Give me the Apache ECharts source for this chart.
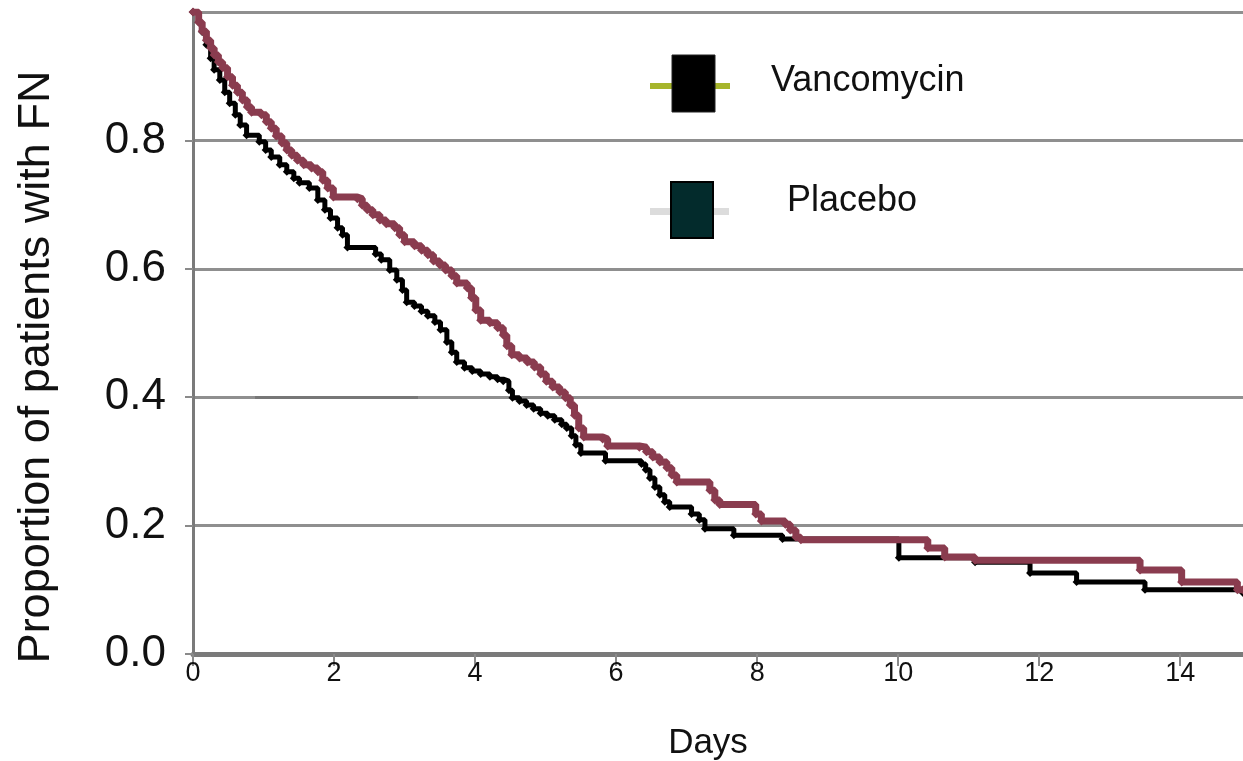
<!DOCTYPE html>
<html>
<head>
<meta charset="utf-8">
<title>Proportion of patients with FN</title>
<script src="https://cdn.jsdelivr.net/npm/echarts@6/dist/echarts.min.js"></script>
<style>
    html, body { margin: 0; padding: 0; background: #fff; }
    #fnChart { width: 1243px; height: 761px; }
</style>
</head>
<body>
<div id="fnChart"></div>
<script>
// Vancomycin (black curve): day, proportion
var vancoDays = [0, 0.08, 0.13, 0.19, 0.25, 0.30, 0.38, 0.45, 0.52, 0.60, 0.67, 0.76, 0.94, 1.03, 1.11, 1.23, 1.33, 1.43, 1.51, 1.65,
    1.77, 1.87, 1.95, 2.05, 2.12, 2.19, 2.59, 2.67, 2.79, 2.89, 2.97, 3.03, 3.14, 3.24, 3.33, 3.43, 3.51, 3.60, 3.67, 3.74,
    3.85, 3.96, 4.08, 4.21, 4.32, 4.40, 4.48, 4.53, 4.63, 4.73, 4.83, 4.93, 5.03, 5.13, 5.23, 5.30, 5.37, 5.43, 5.50, 5.85,
    6.36, 6.42, 6.48, 6.55, 6.62, 6.69, 6.76, 7.07, 7.18, 7.26, 7.67, 8.36, 10.01, 11.09, 11.87, 12.53, 13.50, 14.89];
var vancoProp = [1.0, 0.984, 0.969, 0.949, 0.928, 0.910, 0.894, 0.875, 0.858, 0.840, 0.824, 0.808, 0.798, 0.785, 0.774, 0.762, 0.751, 0.741, 0.734, 0.726,
    0.707, 0.692, 0.679, 0.664, 0.653, 0.633, 0.623, 0.614, 0.598, 0.583, 0.567, 0.548, 0.542, 0.534, 0.527, 0.517, 0.505, 0.486, 0.470, 0.455,
    0.446, 0.441, 0.436, 0.432, 0.428, 0.425, 0.411, 0.399, 0.394, 0.388, 0.382, 0.375, 0.371, 0.365, 0.358, 0.352, 0.340, 0.326, 0.313, 0.301,
    0.296, 0.287, 0.274, 0.260, 0.248, 0.237, 0.229, 0.218, 0.209, 0.195, 0.185, 0.179, 0.150, 0.143, 0.126, 0.112, 0.100, 0.095];

// Placebo (maroon curve)
var placeboDays = [0, 0.08, 0.13, 0.19, 0.25, 0.30, 0.36, 0.42, 0.49, 0.56, 0.63, 0.70, 0.77, 0.83, 0.97, 1.04, 1.11, 1.18, 1.26, 1.33,
    1.40, 1.48, 1.57, 1.68, 1.77, 1.84, 1.91, 1.99, 2.33, 2.40, 2.47, 2.55, 2.65, 2.74, 2.86, 2.93, 3.00, 3.14, 3.24, 3.33,
    3.41, 3.50, 3.58, 3.67, 3.74, 3.89, 3.95, 4.01, 4.08, 4.21, 4.32, 4.40, 4.45, 4.52, 4.63, 4.74, 4.84, 4.93, 5.01, 5.10,
    5.20, 5.28, 5.35, 5.41, 5.47, 5.54, 5.81, 5.88, 6.33, 6.43, 6.52, 6.62, 6.72, 6.79, 6.86, 7.33, 7.40, 7.47, 7.98, 8.06,
    8.40, 8.47, 8.55, 8.62, 10.42, 10.66, 11.09, 13.43, 14.02, 14.81, 14.89];
var placeboProp = [1.0, 0.984, 0.970, 0.956, 0.944, 0.933, 0.922, 0.913, 0.899, 0.886, 0.875, 0.863, 0.852, 0.844, 0.840, 0.829, 0.819, 0.807, 0.796, 0.785,
    0.777, 0.769, 0.762, 0.757, 0.751, 0.738, 0.726, 0.712, 0.709, 0.699, 0.692, 0.684, 0.676, 0.670, 0.664, 0.653, 0.642, 0.636, 0.629, 0.622,
    0.612, 0.606, 0.598, 0.589, 0.578, 0.570, 0.555, 0.536, 0.520, 0.516, 0.508, 0.497, 0.480, 0.466, 0.461, 0.455, 0.447, 0.436, 0.425, 0.416,
    0.408, 0.399, 0.388, 0.372, 0.352, 0.338, 0.335, 0.324, 0.322, 0.315, 0.307, 0.299, 0.290, 0.279, 0.268, 0.255, 0.240, 0.233, 0.218, 0.207,
    0.202, 0.193, 0.182, 0.178, 0.165, 0.151, 0.146, 0.131, 0.112, 0.100, 0.100];

var xTicks = [0, 2, 4, 6, 8, 10, 12, 14];
var yTicks = [0, 0.2, 0.4, 0.6, 0.8];

function toPairs(xs, ys) {
    var out = [];
    for (var i = 0; i < xs.length; i++) {
        out.push([xs[i], ys[i]]);
    }
    return out;
}

var myChart = echarts.init(document.getElementById('fnChart'));
var font = 'Liberation Sans, Arial, sans-serif';
var option = {
    backgroundColor: '#fff',
    animation: false,
    grid: { left: 193, right: 0, top: 12, bottom: 107, outerBoundsMode: 'none' },
    xAxis: {
        type: 'value',
        min: 0,
        max: 14.89,
        interval: 2,
        name: 'Days',
        nameLocation: 'middle',
        nameGap: 72,
        nameTextStyle: { fontFamily: font, fontSize: 35, color: '#111', padding: [0, 20, 0, 0] },
        axisLine: { lineStyle: { color: '#7a7a7a', width: 5 } },
        axisTick: { length: 12, lineStyle: { color: '#8a8a8a', width: 2 } },
        axisLabel: {
            fontFamily: font, fontSize: 27, color: '#111', margin: 6, showMaxLabel: false,
            formatter: function (v) { return xTicks.indexOf(v) >= 0 ? String(v) : ''; }
        },
        splitLine: { show: false }
    },
    yAxis: {
        type: 'value',
        min: 0,
        max: 1,
        interval: 0.2,
        name: 'Proportion of patients with FN',
        nameLocation: 'middle',
        nameGap: 134,
        nameTextStyle: { fontFamily: font, fontSize: 45, color: '#111', padding: [0, 68, 0, 0] },
        axisLine: { show: true, lineStyle: { color: '#7a7a7a', width: 3 } },
        axisTick: { show: true, length: 8, lineStyle: { color: '#8a8a8a', width: 2 } },
        axisLabel: {
            fontFamily: font, fontSize: 44, color: '#111', margin: 27, showMaxLabel: false,
            formatter: function (v) {
                for (var i = 0; i < yTicks.length; i++) {
                    if (Math.abs(yTicks[i] - v) < 1e-6) return yTicks[i].toFixed(1);
                }
                return '';
            }
        },
        splitLine: { lineStyle: { color: '#8f8f8f', width: 3 } }
    },
    series: [{
            name: 'Vancomycin',
            type: 'line',
            step: 'end',
            data: toPairs(vancoDays, vancoProp),
            symbol: 'diamond',
            symbolSize: 8,
            itemStyle: { color: '#000' },
            lineStyle: { color: '#000', width: 5 },
            z: 2,
            markLine: {
                silent: true,
                symbol: 'none',
                label: { show: false },
                lineStyle: { color: '#777', width: 3, type: 'solid' },
                data: [[{ coord: [0.88, 0.4] }, { coord: [3.19, 0.4] }]]
            }
        },
        {
            name: 'Placebo',
            type: 'line',
            step: 'end',
            data: toPairs(placeboDays, placeboProp),
            symbol: 'diamond',
            symbolSize: 9,
            itemStyle: { color: '#8a3c4f' },
            lineStyle: { color: '#8a3c4f', width: 7 },
            z: 3
        }
    ],
    // legend drawn as in the figure: short line behind a tall box
    graphic: [
        { type: 'rect', shape: { x: 650, y: 83, width: 80, height: 6 }, style: { fill: '#a6b52b' } },
        { type: 'rect', shape: { x: 672, y: 55, width: 43, height: 57 }, style: { fill: '#000', stroke: '#222', lineWidth: 1 } },
        { type: 'text', x: 771, y: 81, style: { text: 'Vancomycin', font: '36px ' + font, fill: '#111', verticalAlign: 'middle' } },
        { type: 'rect', shape: { x: 650, y: 208, width: 79, height: 7 }, style: { fill: '#dcdcdc' } },
        { type: 'rect', shape: { x: 671, y: 182, width: 42, height: 56 }, style: { fill: '#032b2c', stroke: '#000', lineWidth: 2 } },
        { type: 'text', x: 787, y: 201, style: { text: 'Placebo', font: '36px ' + font, fill: '#111', verticalAlign: 'middle' } }
    ]
};
option && myChart.setOption(option);
</script>
</body>
</html>
